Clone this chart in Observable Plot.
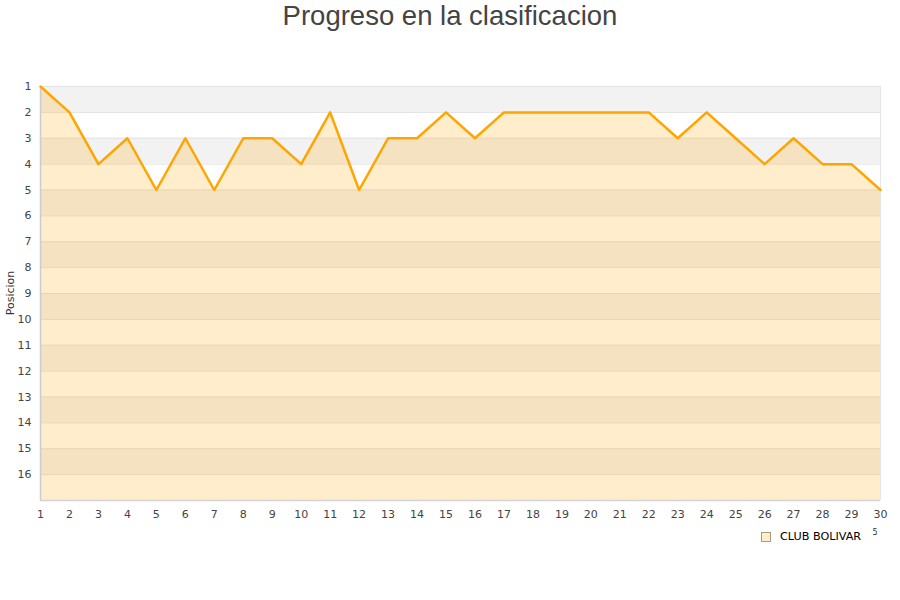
<!DOCTYPE html>
<html>
<head>
<meta charset="utf-8">
<script src="https://cdn.jsdelivr.net/npm/d3@7"></script>
<script src="https://cdn.jsdelivr.net/npm/@observablehq/plot@0.6"></script>
<style>
  body { margin: 0; background: #fff; }
  #wrap { position: relative; width: 900px; height: 600px; font-family: "DejaVu Sans", sans-serif; }
  #title { position: absolute; top: 0; left: 0; width: 900px; text-align: center; font-family: "Liberation Sans", Arial, sans-serif; font-size: 27.5px; color: #444; line-height: 32px; }
  #legend { position: absolute; left: 761px; top: 530px; font-size: 11.2px; color: #000; display: flex; align-items: center; }
  #legend .sw { width: 8px; height: 8px; background: #ffedcc; border: 1px solid #a89a80; margin-right: 9px; }
  #chart { position: absolute; top: 0; left: 0; }
</style>
</head>
<body>
<div id="wrap">
  <div id="chart"></div>
  <div id="title">Progreso en la clasificacion</div>
  <div id="legend"><div class="sw"></div><span>CLUB BOLIVAR</span></div>
</div>
<script>
const jornadas = [1,2,3,4,5,6,7,8,9,10,11,12,13,14,15,16,17,18,19,20,21,22,23,24,25,26,27,28,29,30];
const posiciones = [1,2,4,3,5,3,5,3,3,4,2,5,3,3,2,3,2,2,2,2,2,2,3,2,3,4,3,4,4,5];
const yTicks = [1,2,3,4,5,6,7,8,9,10,11,12,13,14,15,16];
const equipo = "CLUB BOLIVAR";
const totalEquipos = 16;

const data = jornadas.map((j, i) => ({jornada: j, pos: posiciones[i]}));
const bands = yTicks.map(v => ({y1: v, y2: v + 1, fill: v % 2 === 1 ? "#f2f2f2" : "#ffffff"}));

const chart = Plot.plot({
  width: 900,
  height: 600,
  marginTop: 86,
  marginBottom: 100,
  marginLeft: 40,
  marginRight: 20,
  style: {fontFamily: "DejaVu Sans, sans-serif", fontSize: "11px", color: "#444", background: "transparent"},
  x: {domain: [1, 30], ticks: jornadas, tickFormat: d => String(d), tickSize: 0, tickPadding: 10, label: null},
  y: {domain: [1, totalEquipos + 1], reverse: true, ticks: yTicks, tickSize: 0, tickPadding: 9, label: null},
  marks: [
    Plot.rectY(bands, {x1: 1, x2: 30, y1: "y1", y2: "y2", fill: "fill"}),
    Plot.ruleY(yTicks.concat([totalEquipos + 1]), {stroke: "#e2e2e2", strokeWidth: 1}),
    Plot.areaY(data, {x: "jornada", y1: "pos", y2: totalEquipos + 1, fill: "#ffa500", fillOpacity: 0.2}),
    Plot.ruleX([1], {stroke: "#cccccc", strokeWidth: 1.5}),
    Plot.ruleY([totalEquipos + 1], {stroke: "#d4d4d4", strokeWidth: 1.5}),
    Plot.ruleX([30], {stroke: "#e6e6e6", strokeWidth: 1}),
    Plot.line(data, {x: "jornada", y: "pos", stroke: "#ffa500", strokeWidth: 2.5}),
    Plot.axisX({ticks: jornadas, tickSize: 0, tickPadding: 10, label: null}),
    Plot.axisY({ticks: yTicks, tickSize: 0, tickPadding: 9, label: null})
  ]
});
document.getElementById("chart").appendChild(chart);

// Y axis label
const svg = d3.select(chart);
svg.append("text")
  .attr("transform", "translate(14,293) rotate(-90)")
  .attr("text-anchor", "middle")
  .attr("font-size", 11)
  .attr("fill", "#333")
  .text("Posicion");
svg.append("text")
  .attr("x", 875).attr("y", 535)
  .attr("text-anchor", "middle")
  .attr("font-size", 8)
  .attr("fill", "#333")
  .text("5");
</script>
</body>
</html>
